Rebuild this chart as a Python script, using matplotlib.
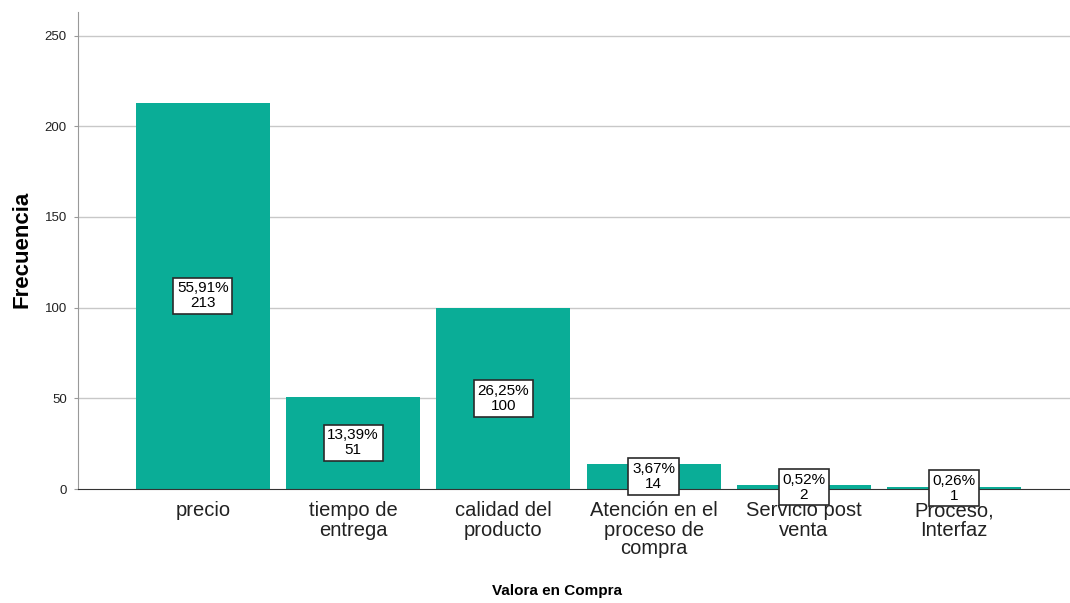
import matplotlib
matplotlib.use('Agg')
import matplotlib.pyplot as plt

plt.rcParams['font.family'] = ['Liberation Sans', 'DejaVu Sans']

categorias = ['precio', 'tiempo de\nentrega', 'calidad del\nproducto',
              'Atención en el\nproceso de\ncompra', 'Servicio post\nventa',
              'Proceso,\nInterfaz']
frecuencias = [213, 51, 100, 14, 2, 1]
porcentajes = ['55,91%', '13,39%', '26,25%', '3,67%', '0,52%', '0,26%']
yticks = [0, 50, 100, 150, 200, 250]

fig = plt.figure(figsize=(10.70, 6.03), dpi=100)
ax = fig.add_axes([78/1070, (603-489)/603, 1 - 78/1070, (489-12)/603])

x = list(range(len(categorias)))
ax.bar(x, frecuencias, width=0.89, color='#0aad97', zorder=2)

# etiquetas con porcentaje y frecuencia a media altura de cada barra
for xi, f, p in zip(x, frecuencias, porcentajes):
    ax.text(xi, f/2, p + '\n' + str(f), ha='center', va='center',
            fontsize=11, linespacing=1.1, zorder=4,
            bbox=dict(boxstyle='square,pad=0.24', facecolor='white',
                      edgecolor='#2a2a2a', linewidth=1.2))

ax.set_xlim(-0.83, 5.77)
ax.set_ylim(0, 263)
ax.set_yticks(yticks)
ax.set_yticklabels([str(t) for t in yticks], fontsize=9.5, color='#222222')
ax.set_xticks(x)
ax.set_xticklabels(categorias, fontsize=14.5, linespacing=1.0,
                   color='#222222')
ax.tick_params(axis='x', length=0, pad=9)
ax.tick_params(axis='y', length=3, color='#999999', pad=5)

for t in yticks[1:]:
    ax.axhline(t, color='#c8c8c8', linewidth=1, zorder=1)

ax.spines['top'].set_visible(False)
ax.spines['right'].set_visible(False)
ax.spines['left'].set_color('#999999')
ax.spines['bottom'].set_color('#333333')
ax.spines['bottom'].set_zorder(3)

fig.text(22/1070, 1 - 249/603, 'Frecuencia', rotation=90, ha='center',
         va='center', fontsize=16, fontweight='bold')
fig.text(557/1070, 1 - 591/603, 'Valora en Compra', ha='center',
         va='center', fontsize=11, fontweight='bold')

fig.savefig('out.png', dpi=100)
